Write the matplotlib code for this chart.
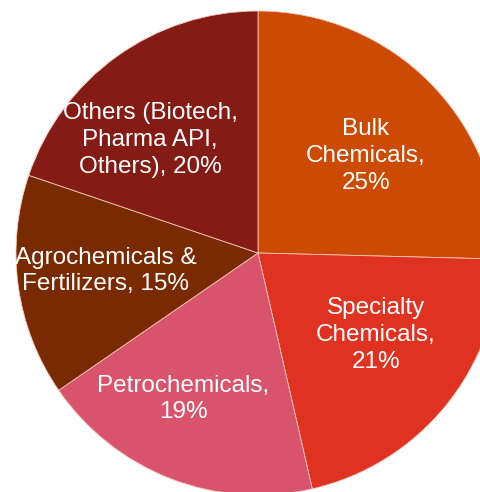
import matplotlib
matplotlib.use("Agg")
import matplotlib.pyplot as plt

# segment shares (%) read from the slice boundaries, clockwise from 12 o'clock
segments = ["Bulk\nChemicals,", "Specialty\nChemicals,", "Petrochemicals,",
            "Agrochemicals &\nFertilizers,", "Others (Biotech,\nPharma API,\nOthers),"]
shares = [25.4, 21.0, 19.0, 14.8, 19.8]
pct_labels = ["25%", "21%", "19%", "15%", "20%"]
colors = ["#CC4A02", "#E03220", "#D9536C", "#7A2A00", "#841B14"]

plt.rcParams['font.family'] = ['Liberation Sans', 'DejaVu Sans']

W, H = 481, 492
fig = plt.figure(figsize=(W / 100, H / 100), dpi=100)
ax = fig.add_axes([0, 0, 1, 1])

# pie centre / radius in pixel units (y measured from the top of the image)
cx, cy, r = 258, 253, 242
ax.pie(shares, colors=colors, startangle=90, counterclock=False,
       center=(cx, H - cy), radius=r, frame=True,
       wedgeprops=dict(edgecolor='#f2c6b8', linewidth=0.6))
ax.set_xlim(0, W)
ax.set_ylim(0, H)
ax.set_aspect('equal')
ax.axis('off')

# label centres in pixels from the top-left (layout)
label_xy = [(366, 156), (376, 335), (183, 399), (106, 271), (150, 140)]
joins = ["\n", "\n", "\n", " ", " "]
for (x, y), name, pct, j in zip(label_xy, segments, pct_labels, joins):
    ax.text(x, H - y, name + j + pct, ha='center', va='center', color='white',
            fontsize=17.5, linespacing=1.28)

fig.savefig("out.png", dpi=100)
